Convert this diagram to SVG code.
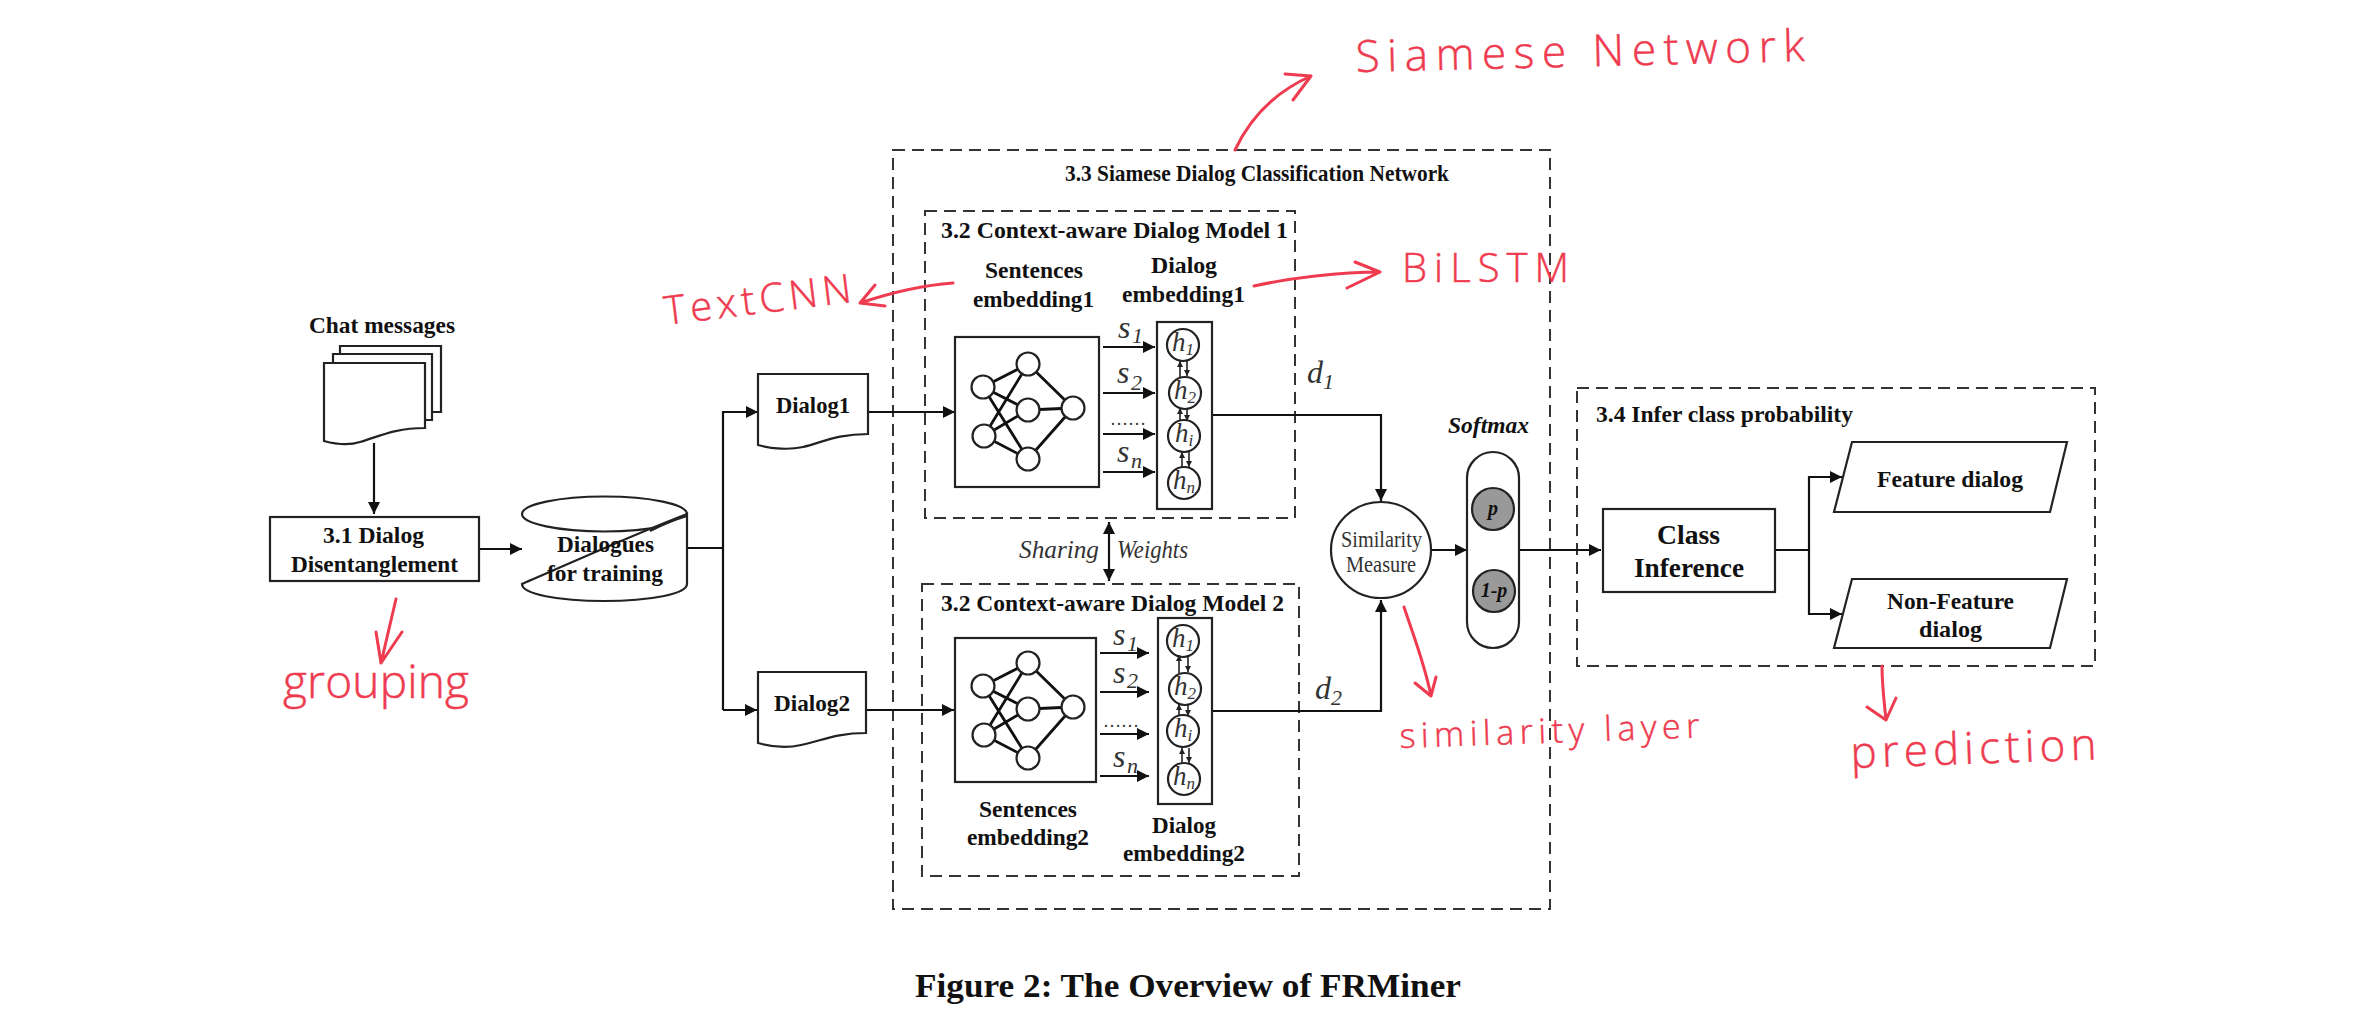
<svg xmlns="http://www.w3.org/2000/svg" width="2359" height="1015" viewBox="0 0 2359 1015">
<defs>
<style>
text{font-family:"Liberation Serif","Times New Roman",serif;fill:#111}
.b{font-weight:700;font-size:24px}
.m{text-anchor:middle}
.i{font-style:italic}
.s{fill:#fff;stroke:#222;stroke-width:2.2}
.n{fill:none;stroke:#222;stroke-width:2.2}
.d{fill:none;stroke:#333;stroke-width:2;stroke-dasharray:12 7}
.w{fill:none;stroke:#111;stroke-width:2.8}
.c{fill:#fff;stroke:#222;stroke-width:2.2}
.g{fill:#999;stroke:#222;stroke-width:2.2}
.a{fill:none;stroke:#111;stroke-width:2.2;marker-end:url(#ah)}
.l{fill:none;stroke:#111;stroke-width:2.2}
.t{fill:none;stroke:#222;stroke-width:1.6;marker-end:url(#as)}
.r{fill:none;stroke:#ee3b4f;stroke-width:3;stroke-linecap:round;stroke-linejoin:round}
.h{font-family:"Open Sans","Liberation Sans",sans-serif;font-weight:300;fill:#ee3b4f;stroke:#ee3b4f;stroke-width:.5}
.sub{font-size:22px;font-style:italic;fill:#333}
.v{font-size:32px;font-style:italic;fill:#333}
.hh{font-size:27px;font-style:italic;fill:#333}
.hs{font-size:17px}
.x{font-size:25px;font-style:italic;fill:#333}
.y{font-size:23px;fill:#333}
</style>
<marker id="ah" markerUnits="userSpaceOnUse" markerWidth="14" markerHeight="14" refX="12" refY="6" orient="auto"><path d="M0,0L12,6L0,12Z" fill="#111"/></marker>
<marker id="ahs" markerUnits="userSpaceOnUse" markerWidth="14" markerHeight="14" refX="12" refY="6" orient="auto-start-reverse"><path d="M0,0L12,6L0,12Z" fill="#111"/></marker>
<marker id="as" markerUnits="userSpaceOnUse" markerWidth="8" markerHeight="8" refX="6" refY="3" orient="auto"><path d="M0,0L6,3L0,6Z" fill="#222"/></marker>
<g id="nn"><path class="w" d="M-28,-21L17,-44M-28,-21L17,2M-28,-21L17,51M-27,28L17,-44M-27,28L17,2M-27,28L17,51M17,-44L62,0M17,2L62,0M17,51L62,0"/><circle class="c" cx="-28" cy="-21" r="11.500"/><circle class="c" cx="-27" cy="28" r="11.500"/><circle class="c" cx="17" cy="-44" r="11.500"/><circle class="c" cx="17" cy="2" r="11.500"/><circle class="c" cx="17" cy="51" r="11.500"/><circle class="c" cx="62" cy="0" r="11.500"/></g>
</defs>
<rect width="2359" height="1015" fill="#fff"/>

<g id="outer-box"><rect class="d" x="893" y="150" width="657" height="759"/><text class="b" x="1065" y="181" textLength="384" lengthAdjust="spacingAndGlyphs">3.3 Siamese Dialog Classification Network</text></g>
<g id="model-1"><rect class="d" x="925" y="211" width="370" height="307"/><text class="b" x="941" y="238" textLength="347" lengthAdjust="spacingAndGlyphs">3.2 Context-aware Dialog Model 1</text></g>
<g id="model-2"><rect class="d" x="922" y="584" width="377" height="292"/><text class="b" x="941" y="611" textLength="343" lengthAdjust="spacingAndGlyphs">3.2 Context-aware Dialog Model 2</text></g>
<g id="infer-box"><rect class="d" x="1577" y="388" width="518" height="278"/><text class="b" x="1596" y="422" textLength="257" lengthAdjust="spacingAndGlyphs">3.4 Infer class probability</text></g>

<g id="connectors">
<path class="a" d="M374,443V514"/>
<path class="a" d="M479,549H522"/>
<path class="l" d="M687,548H723"/>
<path class="a" d="M723,710V412H758"/>
<path class="a" d="M723,710H757"/>
<path class="a" d="M868,412H955"/>
<path class="a" d="M866,710H954"/>
<path class="a" d="M1103,347H1155"/><path class="a" d="M1103,393H1155"/><path class="a" d="M1103,434H1155"/><path class="a" d="M1103,472H1155"/>
<path class="a" d="M1100,653H1149"/><path class="a" d="M1100,692H1149"/><path class="a" d="M1100,734H1149"/><path class="a" d="M1100,776H1149"/>
<path class="a" d="M1212,415H1381V501"/>
<path class="a" d="M1212,711H1381V600"/>
<path class="a" d="M1431,550H1467"/>
<path class="a" d="M1519,550H1601"/>
<path class="a" d="M1775,550H1809V477H1842"/>
<path class="a" d="M1809,550V614H1842"/>
<path d="M1109,522V581" fill="none" stroke="#111" stroke-width="2.2" marker-start="url(#ahs)" marker-end="url(#ahs)"/>
</g>

<g id="chat-messages">
<text class="b" x="309" y="333" textLength="146" lengthAdjust="spacingAndGlyphs">Chat messages</text>
<path class="s" d="M340,346H441V412H420V360H340Z"/>
<path class="s" d="M333,354H432V420H415V368H333Z"/>
<path class="s" d="M324,363H425V428C395,428 380,436 360,442C348,446 335,444 324,441Z"/>
</g>
<g id="disentanglement"><rect class="s" x="270" y="517" width="209" height="64"/><text class="b" x="323" y="543" textLength="101" lengthAdjust="spacingAndGlyphs">3.1 Dialog</text><text class="b" x="291" y="572" textLength="167" lengthAdjust="spacingAndGlyphs">Disentanglement</text></g>
<g id="dialogues">
<ellipse class="n" cx="604.500" cy="514" rx="82.500" ry="17.500"/>
<path class="s" d="M687,514V584C687,594 650,601 604,601C558,601 522,594 522,584C560,568 620,540 687,514Z"/>
<path class="n" d="M687,516C670,521 660,526 650,531"/>
<text class="b" x="557" y="552" textLength="97" lengthAdjust="spacingAndGlyphs">Dialogues</text><text class="b" x="547" y="581" textLength="116" lengthAdjust="spacingAndGlyphs">for training</text>
</g>
<g id="dialog1"><path class="s" d="M758,374H868V434C838,434 823,442 803,447C790,450 772,449 758,445Z"/><text class="b" x="776" y="413" textLength="74" lengthAdjust="spacingAndGlyphs">Dialog1</text></g>
<g id="dialog2"><path class="s" d="M758,672H866V733C836,733 821,741 801,745C788,748 772,747 758,743Z"/><text class="b" x="774" y="711" textLength="76" lengthAdjust="spacingAndGlyphs">Dialog2</text></g>

<g id="sentences-1"><text class="b" x="985" y="278" textLength="98" lengthAdjust="spacingAndGlyphs">Sentences</text><text class="b" x="973" y="307" textLength="121" lengthAdjust="spacingAndGlyphs">embedding1</text><rect class="s" x="955" y="337" width="144" height="150"/><use href="#nn" x="1011" y="408"/></g>
<g id="dialog-embedding-1"><text class="b" x="1151" y="273" textLength="66" lengthAdjust="spacingAndGlyphs">Dialog</text><text class="b" x="1122" y="302" textLength="123" lengthAdjust="spacingAndGlyphs">embedding1</text><rect class="s" x="1157" y="322" width="55" height="187"/>
<circle class="c" cx="1183" cy="345" r="16"/><circle class="c" cx="1185" cy="393" r="16"/><circle class="c" cx="1184" cy="436" r="16"/><circle class="c" cx="1184" cy="483" r="16"/>
<path class="t" d="M1180,377V361"/><path class="t" d="M1187,361V376"/><path class="t" d="M1180,421V408"/><path class="t" d="M1187,408V421"/><path class="t" d="M1182,467V452"/><path class="t" d="M1189,452V467"/>
<text class="hh m" x="1183" y="351">h<tspan class="hs" dy="4">1</tspan></text>
<text class="hh m" x="1185" y="399">h<tspan class="hs" dy="4">2</tspan></text>
<text class="hh m" x="1184" y="442">h<tspan class="hs" dy="4">i</tspan></text>
<text class="hh m" x="1184" y="489">h<tspan class="hs" dy="4">n</tspan></text>
</g>
<g id="sentence-labels-1">
<text class="v" x="1118" y="338">s</text><text class="sub" x="1132" y="343">1</text>
<text class="v" x="1117" y="383">s</text><text class="sub" x="1131" y="390">2</text>
<text x="1110" y="425" style="font-size:18px;fill:#333">……</text>
<text class="v" x="1117" y="462">s</text><text class="sub" x="1131" y="468">n</text>
</g>

<g id="sentences-2"><rect class="s" x="955" y="638" width="141" height="144"/><use href="#nn" x="1011" y="707"/><text class="b" x="979" y="817" textLength="98" lengthAdjust="spacingAndGlyphs">Sentences</text><text class="b" x="967" y="845" textLength="122" lengthAdjust="spacingAndGlyphs">embedding2</text></g>
<g id="dialog-embedding-2"><rect class="s" x="1158" y="618" width="54" height="186"/>
<circle class="c" cx="1183" cy="641" r="16"/><circle class="c" cx="1185" cy="689" r="16"/><circle class="c" cx="1183" cy="731" r="16"/><circle class="c" cx="1184" cy="779" r="16"/>
<path class="t" d="M1179,673V655"/><path class="t" d="M1188,655V672"/><path class="t" d="M1179,716V704"/><path class="t" d="M1188,704V716"/><path class="t" d="M1182,763V748"/><path class="t" d="M1189,748V763"/>
<text class="hh m" x="1183" y="647">h<tspan class="hs" dy="4">1</tspan></text>
<text class="hh m" x="1185" y="695">h<tspan class="hs" dy="4">2</tspan></text>
<text class="hh m" x="1183" y="737">h<tspan class="hs" dy="4">i</tspan></text>
<text class="hh m" x="1184" y="785">h<tspan class="hs" dy="4">n</tspan></text>
<text class="b" x="1152" y="833" textLength="64" lengthAdjust="spacingAndGlyphs">Dialog</text><text class="b" x="1123" y="861" textLength="122" lengthAdjust="spacingAndGlyphs">embedding2</text></g>
<g id="sentence-labels-2">
<text class="v" x="1113" y="645">s</text><text class="sub" x="1127" y="651">1</text>
<text class="v" x="1113" y="683">s</text><text class="sub" x="1127" y="688">2</text>
<text x="1103" y="727" style="font-size:18px;fill:#333">……</text>
<text class="v" x="1113" y="767">s</text><text class="sub" x="1127" y="773">n</text>
</g>

<g id="d-labels"><text class="v" x="1307" y="383">d</text><text class="sub" x="1323" y="389">1</text><text class="v" x="1315" y="699">d</text><text class="sub" x="1331" y="705">2</text></g>
<g id="sharing"><text class="x" x="1019" y="558" textLength="80" lengthAdjust="spacingAndGlyphs">Sharing</text><text class="x" x="1117" y="558" textLength="71" lengthAdjust="spacingAndGlyphs">Weights</text></g>
<g id="similarity"><ellipse class="c" cx="1381" cy="550" rx="50" ry="48"/><text class="y" x="1341" y="547" textLength="81" lengthAdjust="spacingAndGlyphs">Similarity</text><text class="y" x="1346" y="572" textLength="70" lengthAdjust="spacingAndGlyphs">Measure</text></g>
<g id="softmax"><text class="b i" x="1448" y="433" textLength="81" lengthAdjust="spacingAndGlyphs">Softmax</text><rect class="s" x="1467" y="452" width="52" height="196" rx="26" ry="26"/><circle class="g" cx="1493" cy="509" r="21"/><text class="b i m" x="1493" y="515" style="font-size:20px">p</text><circle class="g" cx="1494" cy="591" r="21"/><text class="b i m" x="1494" y="597" style="font-size:20px">1-p</text></g>
<g id="class-inference"><rect class="s" x="1603" y="509" width="172" height="83"/><text class="b" x="1657" y="544" textLength="63" lengthAdjust="spacingAndGlyphs" style="font-size:27px">Class</text><text class="b" x="1634" y="577" textLength="110" lengthAdjust="spacingAndGlyphs" style="font-size:27px">Inference</text></g>
<g id="feature"><path class="s" d="M1852,442H2067L2050,512H1834Z"/><text class="b" x="1877" y="487" textLength="146" lengthAdjust="spacingAndGlyphs">Feature dialog</text></g>
<g id="non-feature"><path class="s" d="M1852,579H2067L2050,648H1834Z"/><text class="b" x="1887" y="609" textLength="127" lengthAdjust="spacingAndGlyphs">Non-Feature</text><text class="b" x="1919" y="637" textLength="63" lengthAdjust="spacingAndGlyphs">dialog</text></g>

<g id="annotations">
<path class="r" d="M1235,150C1250,118 1275,92 1311,76M1285,74L1311,76L1293,100"/>
<text class="h" transform="translate(1356 72) rotate(-1.4)" textLength="449" style="font-size:44px">Siamese Network</text>
<path class="r" d="M1254,286C1290,278 1340,272 1380,272M1355,262L1380,272L1347,288"/>
<text class="h" x="1402" y="282" textLength="167" style="font-size:40px">BiLSTM</text>
<path class="r" d="M953,283C925,285 893,292 860,303M875,285L860,303L885,306"/>
<text class="h" transform="translate(666 325) rotate(-7)" textLength="188" style="font-size:40px">TextCNN</text>
<path class="r" d="M396,599L381,663M376,632L381,663L402,632"/>
<text class="h" x="283" y="698" textLength="186" style="font-size:46px">grouping</text>
<path class="r" d="M1404,607C1415,640 1425,665 1431,696M1415,683L1431,696L1436,677"/>
<text class="h" transform="translate(1400 748) rotate(-2)" textLength="300" style="font-size:34px">similarity layer</text>
<path class="r" d="M1882,666C1882,685 1884,700 1886,720M1867,707L1886,720L1896,698"/>
<text class="h" transform="translate(1851 768) rotate(-2)" textLength="246" style="font-size:44px">prediction</text>
</g>

<g id="caption"><text x="915" y="997" textLength="546" lengthAdjust="spacingAndGlyphs" style="font-size:34px;font-weight:700">Figure 2: The Overview of FRMiner</text></g>
</svg>
